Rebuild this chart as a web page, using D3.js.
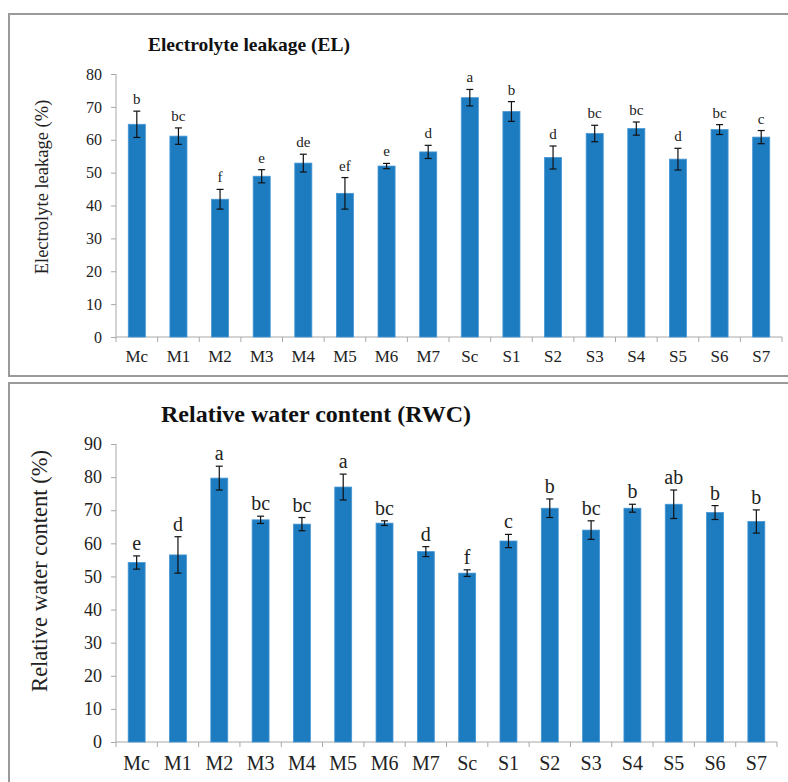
<!DOCTYPE html>
<html>
<head>
<meta charset="utf-8">
<script src="https://cdn.jsdelivr.net/npm/d3@7"></script>
<style>
  body { margin: 0; background: #fff; }
  svg { display: block; font-family: "Liberation Serif", "Times New Roman", serif; }
</style>
</head>
<body>
<svg id="chart" width="788" height="782"></svg>
<script>
const categories = ['Mc', 'M1', 'M2', 'M3', 'M4', 'M5', 'M6', 'M7', 'Sc', 'S1', 'S2', 'S3', 'S4', 'S5', 'S6', 'S7'];

const elValues = [64.7, 61.1, 41.9, 48.9, 52.9, 43.7, 52.0, 56.3, 72.8, 68.6, 54.6, 61.9, 63.4, 54.1, 63.1, 60.8];
const elErrors = [4.0, 2.5, 3.0, 2.0, 2.7, 4.8, 0.8, 2.0, 2.5, 3.0, 3.5, 2.5, 2.0, 3.3, 1.5, 2.0];
const elLetters = ['b', 'bc', 'f', 'e', 'de', 'ef', 'e', 'd', 'a', 'b', 'd', 'bc', 'bc', 'd', 'bc', 'c'];
const elTicks = [0, 10, 20, 30, 40, 50, 60, 70, 80];

const rwcValues = [54.2, 56.5, 79.7, 67.1, 65.8, 77.0, 66.1, 57.5, 51.0, 60.7, 70.6, 64.0, 70.6, 71.8, 69.3, 66.6];
const rwcErrors = [2.0, 5.5, 3.6, 1.1, 2.0, 3.9, 0.7, 1.5, 1.0, 2.0, 2.8, 2.8, 1.2, 4.3, 2.1, 3.5];
const rwcLetters = ['e', 'd', 'a', 'bc', 'bc', 'a', 'bc', 'd', 'f', 'c', 'b', 'bc', 'b', 'ab', 'b', 'b'];
const rwcTicks = [0, 10, 20, 30, 40, 50, 60, 70, 80, 90];

const svg = d3.select('#chart');
const barColor = '#1d7bc0';
const axisColor = '#a8a8a8';

// panel borders
svg.append('rect').attr('x', 9).attr('y', 14).attr('width', 800).attr('height', 362)
  .attr('fill', 'none').attr('stroke', '#9a9a9a').attr('stroke-width', 2);
svg.append('rect').attr('x', 9).attr('y', 383).attr('width', 800).attr('height', 420)
  .attr('fill', 'none').attr('stroke', '#9a9a9a').attr('stroke-width', 2);

function drawPanel(cfg) {
  const g = svg.append('g');

  const x = d3.scaleBand()
    .domain(categories)
    .range([cfg.left, cfg.right])
    .paddingInner(0.59)
    .paddingOuter(0.295);

  const y = d3.scaleLinear().domain([0, cfg.max]).range([cfg.bottom, cfg.top]);

  // y axis
  const yAxis = g.append('g')
    .attr('transform', `translate(${cfg.left},0)`)
    .call(d3.axisLeft(y).tickValues(cfg.ticks).tickSize(5).tickPadding(9));
  yAxis.attr('font-family', null);
  yAxis.select('.domain').attr('stroke', axisColor).attr('d', `M0,${cfg.bottom}V${cfg.top}`);
  yAxis.selectAll('.tick line').attr('stroke', axisColor);
  yAxis.selectAll('.tick text')
    .attr('font-size', cfg.tickFont).attr('fill', '#222');

  // x axis
  const xg = g.append('g');
  xg.append('line')
    .attr('x1', cfg.left).attr('x2', cfg.right)
    .attr('y1', cfg.bottom).attr('y2', cfg.bottom)
    .attr('stroke', axisColor);
  const step = x.step();
  xg.selectAll('line.tk')
    .data(d3.range(categories.length + 1))
    .join('line')
    .attr('class', 'tk')
    .attr('x1', (i) => cfg.left + i * step)
    .attr('x2', (i) => cfg.left + i * step)
    .attr('y1', cfg.bottom).attr('y2', cfg.bottom + 5)
    .attr('stroke', axisColor);
  xg.selectAll('text')
    .data(categories)
    .join('text')
    .attr('x', (d) => x(d) + x.bandwidth() / 2)
    .attr('y', cfg.labelY)
    .attr('text-anchor', 'middle')
    .attr('font-size', cfg.xFont)
    .attr('fill', '#222')
    .text((d) => d);

  // bars
  g.selectAll('rect.bar')
    .data(cfg.values)
    .join('rect')
    .attr('class', 'bar')
    .attr('x', (d, i) => x(categories[i]))
    .attr('width', x.bandwidth())
    .attr('y', (d) => y(d))
    .attr('height', (d) => y(0) - y(d))
    .attr('fill', barColor)
    .attr('stroke', '#4596d4')
    .attr('stroke-width', 0.8);

  // error bars
  const eb = g.selectAll('g.err')
    .data(cfg.values)
    .join('g')
    .attr('class', 'err')
    .attr('stroke', '#111')
    .attr('stroke-width', 1.2);
  const cx = (i) => x(categories[i]) + x.bandwidth() / 2;
  eb.append('line')
    .attr('x1', (d, i) => cx(i)).attr('x2', (d, i) => cx(i))
    .attr('y1', (d, i) => y(d + cfg.errors[i]))
    .attr('y2', (d, i) => y(d - cfg.errors[i]));
  eb.append('line')
    .attr('x1', (d, i) => cx(i) - 3.5).attr('x2', (d, i) => cx(i) + 3.5)
    .attr('y1', (d, i) => y(d + cfg.errors[i]))
    .attr('y2', (d, i) => y(d + cfg.errors[i]));
  eb.append('line')
    .attr('x1', (d, i) => cx(i) - 3.5).attr('x2', (d, i) => cx(i) + 3.5)
    .attr('y1', (d, i) => y(d - cfg.errors[i]))
    .attr('y2', (d, i) => y(d - cfg.errors[i]));

  // significance letters
  g.selectAll('text.letter')
    .data(cfg.letters)
    .join('text')
    .attr('class', 'letter')
    .attr('x', (d, i) => cx(i))
    .attr('y', (d, i) => y(cfg.values[i] + cfg.errors[i]) - cfg.letterGap)
    .attr('text-anchor', 'middle')
    .attr('font-size', cfg.letterFont)
    .attr('fill', '#222')
    .text((d) => d);

  // title
  g.append('text')
    .attr('x', cfg.titleX).attr('y', cfg.titleY)
    .attr('text-anchor', 'middle')
    .attr('font-weight', 'bold')
    .attr('font-size', cfg.titleFont)
    .attr('fill', '#111')
    .text(cfg.title);

  // y label
  g.append('text')
    .attr('transform', `translate(${cfg.yLabelX},${cfg.yLabelY}) rotate(-90)`)
    .attr('text-anchor', 'middle')
    .attr('font-size', cfg.yLabelFont)
    .attr('fill', '#222')
    .text(cfg.yLabel);
}

drawPanel({
  values: elValues, errors: elErrors, letters: elLetters, ticks: elTicks, max: 80,
  left: 116, right: 782, top: 74, bottom: 337,
  tickFont: 16, xFont: 17, labelY: 362, letterFont: 15, letterGap: 7,
  title: 'Electrolyte leakage (EL)', titleX: 249, titleY: 51, titleFont: 19.5,
  yLabel: 'Electrolyte leakage (%)', yLabelX: 48, yLabelY: 187, yLabelFont: 18.5
});

drawPanel({
  values: rwcValues, errors: rwcErrors, letters: rwcLetters, ticks: rwcTicks, max: 90,
  left: 116, right: 777, top: 444, bottom: 742,
  tickFont: 18, xFont: 20, labelY: 770, letterFont: 20, letterGap: 6,
  title: 'Relative water content (RWC)', titleX: 316, titleY: 422, titleFont: 24,
  yLabel: 'Relative water content (%)', yLabelX: 47, yLabelY: 571, yLabelFont: 22.5
});
</script>
</body>
</html>
